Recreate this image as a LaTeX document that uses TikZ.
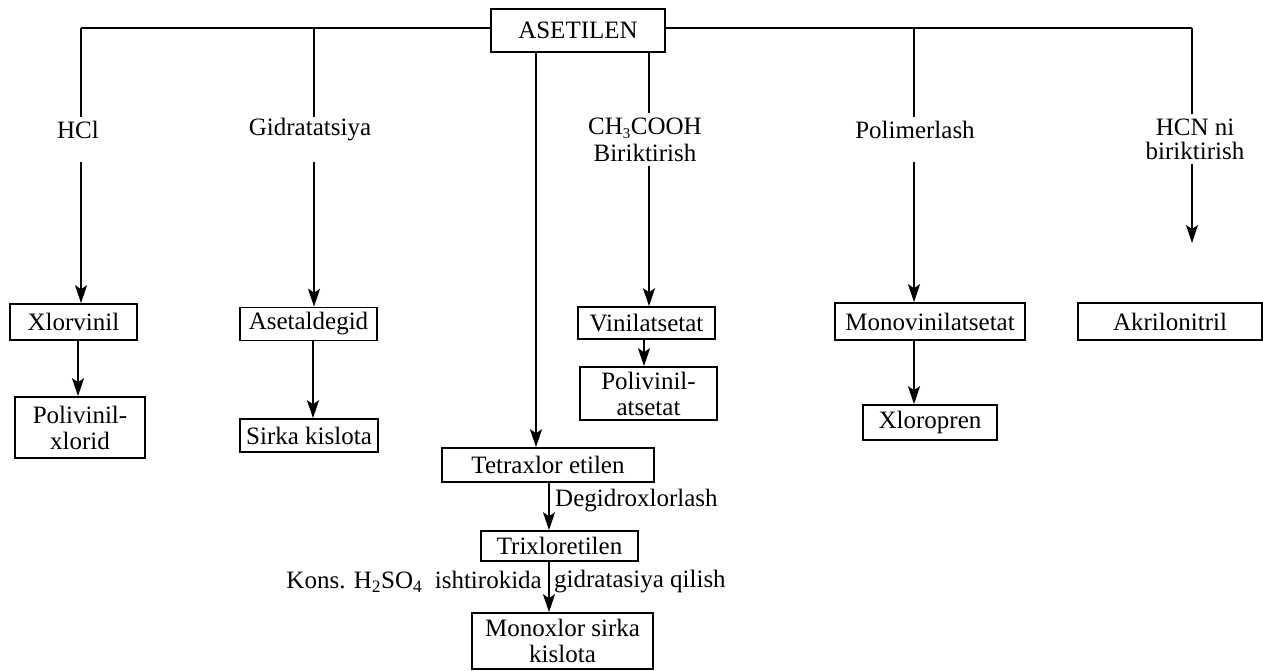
\documentclass[tikz,border=0pt]{standalone}
\usepackage{fontspec}
\setmainfont{Liberation Serif}
\usetikzlibrary{arrows.meta}
\begin{document}
\begin{tikzpicture}[x=1pt,y=-1pt,
  box/.style={draw, line width=1.6pt, inner sep=0pt, align=center, fill=white,
              font=\fontsize{25}{26}\selectfont},
  lbl/.style={inner sep=0pt, align=center, font=\fontsize{25}{24}\selectfont},
  ln/.style={line width=1.6pt},
  arr/.style={line width=1.6pt, -{Stealth[length=18pt,width=12pt,inset=4pt]}}]
\useasboundingbox (0,0) rectangle (1263,671);

% top
\node[box, minimum width=174pt, minimum height=43pt] (ase) at (578,30.5) {ASETILEN};

% product boxes
\node[box, minimum width=127pt, minimum height=36pt] (xlor) at (73.5,322) {Xlorvinil};
\node[box, minimum width=130pt, minimum height=61pt] (pvx) at (80,427.5) {Polivinil-\\xlorid};
\node[box, minimum width=137pt, minimum height=33pt] (ald) at (308.5,324) {Asetaldegid};
\node[box, minimum width=138pt, minimum height=33pt] (sirka) at (309,435.5) {Sirka kislota};
\node[box, minimum width=212pt, minimum height=34pt] (tetra) at (548,465) {Tetraxlor etilen};
\node[box, minimum width=157pt, minimum height=30pt] (trix) at (559.5,546) {Trixloretilen};
\node[box, minimum width=181pt, minimum height=56pt] (monox) at (562.5,641) {Monoxlor sirka\\kislota};
\node[box, minimum width=137pt, minimum height=32pt] (vinil) at (646.5,323) {Vinilatsetat};
\node[box, minimum width=137pt, minimum height=53pt] (pva) at (648.5,393.5) {Polivinil-\\atsetat};
\node[box, minimum width=190pt, minimum height=37pt] (monov) at (930,321.5) {Monovinilatsetat};
\node[box, minimum width=134pt, minimum height=35pt] (xlp) at (930,422.5) {Xloropren};
\node[box, minimum width=184pt, minimum height=37pt] (akr) at (1170,321.5) {Akrilonitril};

% branch labels
\node[lbl] (lhcl) at (78,130) {HCl};
\node[lbl] (lgid) at (310,130) {Gidratatsiya};
\node[lbl, font=\fontsize{25}{27}\selectfont] (lch) at (645,140)
  {CH\textsubscript{\fontsize{15}{15}\selectfont 3}COOH\\Biriktirish};
\node[lbl] (lpol) at (915,130) {Polimerlash};
\node[lbl] (lhcn) at (1195,139) {HCN ni\\biriktirish};

% coordinates of the tree
\coordinate (t1) at (81,28);   \coordinate (b1) at (81,117);   \coordinate (c1) at (81,162);
\coordinate (t2) at (314,28);  \coordinate (b2) at (314,117);  \coordinate (c2) at (314,162);
\coordinate (xc) at (536,0);
\coordinate (xv) at (649,0);   \coordinate (b4) at (649,113);  \coordinate (c4) at (649,166);
\coordinate (t5) at (914,28);  \coordinate (b5) at (914,117);  \coordinate (c5) at (914,162);
\coordinate (t6) at (1192,28); \coordinate (b6) at (1192,114); \coordinate (c6) at (1192,164);
\coordinate (e6) at (1192,243);

% top horizontal line
\draw[ln] (t1) -- (ase.west |- t1);
\draw[ln] (ase.east |- t6) -- (t6);

% HCl
\draw[ln] (t1) -- (b1);
\draw[arr] (c1) -- (xlor.north -| c1);
% Gidratatsiya
\draw[ln] (t2) -- (b2);
\draw[arr] (c2) -- (ald.north -| c2);
% centre
\draw[arr] (ase.south -| xc) -- (tetra.north -| xc);
% CH3COOH
\draw[ln] (ase.south -| xv) -- (b4);
\draw[arr] (c4) -- (vinil.north -| c4);
% Polimerlash
\draw[ln] (t5) -- (b5);
\draw[arr] (c5) -- (monov.north -| c5);
% HCN
\draw[ln] (t6) -- (b6);
\draw[arr] (c6) -- (e6);

% secondary arrows
\coordinate (x1) at (78,0);
\draw[arr] (xlor.south -| x1) -- (pvx.north -| x1);
\coordinate (x2) at (313,0);
\draw[arr] (ald.south -| x2) -- (sirka.north -| x2);
\coordinate (x3) at (644,0);
\draw[arr] (vinil.south -| x3) -- (pva.north -| x3);
\coordinate (x5) at (914,0);
\draw[arr] (monov.south -| x5) -- (xlp.north -| x5);
\coordinate (x4) at (549,0);
\draw[arr] (tetra.south -| x4) -- (trix.north -| x4);
\draw[arr] (trix.south -| x4) -- (monox.north -| x4);

% reaction labels at the bottom
\node[lbl, anchor=west] (ldeg) at (555,501) {Degidroxlorlash};
\node[lbl, anchor=east] (lkons) at (542,582) {Kons. H\textsubscript{2}SO\textsubscript{4}\ \ ishtirokida};
\node[lbl, anchor=west] (lgidr) at (554,582) {gidratasiya qilish};
\end{tikzpicture}
\end{document}
